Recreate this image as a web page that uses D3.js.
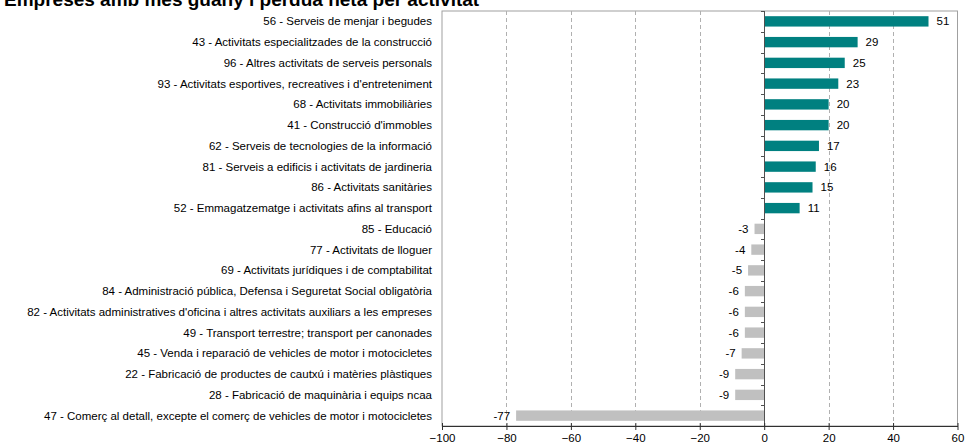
<!DOCTYPE html>
<html>
<head>
<meta charset="utf-8">
<script src="https://cdn.jsdelivr.net/npm/d3@7"></script>
<style>
  body { margin: 0; background: #fff; }
  text { font-family: "Liberation Sans", Arial, sans-serif; }
</style>
</head>
<body>
<div id="chart"></div>
<script>
// categories, top to bottom
var categories = [
    "56 - Serveis de menjar i begudes",
    "43 - Activitats especialitzades de la construcció",
    "96 - Altres activitats de serveis personals",
    "93 - Activitats esportives, recreatives i d'entreteniment",
    "68 - Activitats immobiliàries",
    "41 - Construcció d'immobles",
    "62 - Serveis de tecnologies de la informació",
    "81 - Serveis a edificis i activitats de jardineria",
    "86 - Activitats sanitàries",
    "52 - Emmagatzematge i activitats afins al transport",
    "85 - Educació",
    "77 - Activitats de lloguer",
    "69 - Activitats jurídiques i de comptabilitat",
    "84 - Administració pública, Defensa i Seguretat Social obligatòria",
    "82 - Activitats administratives d'oficina i altres activitats auxiliars a les empreses",
    "49 - Transport terrestre; transport per canonades",
    "45 - Venda i reparació de vehicles de motor i motocicletes",
    "22 - Fabricació de productes de cautxú i matèries plàstiques",
    "28 - Fabricació de maquinària i equips ncaa",
    "47 - Comerç al detall, excepte el comerç de vehicles de motor i motocicletes"
];
var values = [51, 29, 25, 23, 20, 20, 17, 16, 15, 11, -3, -4, -5, -6, -6, -6, -7, -9, -9, -77];
var xTicks = [-100, -80, -60, -40, -20, 0, 20, 40, 60];
var title = "Empreses amb més guany i pèrdua neta per activitat";

var width = 967, height = 446;
var margin = {top: 11, right: 9.5, bottom: 20, left: 442};

var svg = d3.select("#chart").append("svg")
    .attr("width", width)
    .attr("height", height);

// title, cut off at the top edge like the original
svg.append("text")
    .attr("x", 4).attr("y", 6)
    .attr("font-size", 19).attr("font-weight", "bold")
    .attr("fill", "#000")
    .text(title);

var x = d3.scaleLinear()
    .domain([-100, 60])
    .range([margin.left, width - margin.right]);

var y = d3.scaleBand()
    .domain(categories)
    .range([margin.top, height - margin.bottom])
    .paddingInner(0.5).paddingOuter(0.25);

var x0 = x(-100), x1 = x(60), yTop = margin.top, yBot = height - margin.bottom;

// frame
svg.append("rect")
    .attr("x", x0).attr("y", yTop)
    .attr("width", x1 - x0).attr("height", yBot - yTop)
    .attr("fill", "none").attr("stroke", "#a0a0a0").attr("stroke-width", 1);

// dashed gridlines
svg.append("g").selectAll("line")
    .data(xTicks.filter(function(d) { return d != -100 && d != 0 && d != 60; }))
    .enter().append("line")
        .attr("x1", function(d) { return Math.round(x(d)) + 0.5; })
        .attr("x2", function(d) { return Math.round(x(d)) + 0.5; })
        .attr("y1", yTop).attr("y2", yBot)
        .attr("stroke", "#b0b0b0")
        .attr("stroke-dasharray", "4,3");

// bars
svg.append("g").selectAll("rect")
    .data(values)
    .enter().append("rect")
        .attr("x", function(d) { return x(Math.min(0, d)); })
        .attr("y", function(d, i) { return y(categories[i]); })
        .attr("width", function(d) { return Math.abs(x(d) - x(0)); })
        .attr("height", y.bandwidth())
        .attr("fill", function(d) { return d >= 0 ? "#008080" : "#c0c0c0"; });

// value labels
svg.append("g").selectAll("text")
    .data(values)
    .enter().append("text")
        .attr("x", function(d) { return d >= 0 ? x(d) + 8 : x(d) - 6; })
        .attr("y", function(d, i) { return y(categories[i]) + y.bandwidth() / 2; })
        .attr("dy", "0.35em")
        .attr("text-anchor", function(d) { return d >= 0 ? "start" : "end"; })
        .attr("font-size", 11.5)
        .attr("fill", "#000")
        .text(function(d) { return d; });

// category labels
svg.append("g").selectAll("text")
    .data(categories)
    .enter().append("text")
        .attr("x", margin.left - 10)
        .attr("y", function(d) { return y(d) + y.bandwidth() / 2; })
        .attr("dy", "0.35em")
        .attr("text-anchor", "end")
        .attr("font-size", 11.5)
        .attr("fill", "#000")
        .text(function(d) { return d; });

// zero axis with ticks between categories
var yAxis = svg.append("g");
yAxis.append("line")
    .attr("x1", Math.round(x(0)) + 0.5).attr("x2", Math.round(x(0)) + 0.5)
    .attr("y1", yTop).attr("y2", yBot)
    .attr("stroke", "#505050");
yAxis.selectAll(".tk")
    .data(d3.range(categories.length + 1))
    .enter().append("line")
        .attr("x1", Math.round(x(0)) - 3).attr("x2", Math.round(x(0)) + 0.5)
        .attr("y1", function(i) { return Math.round(yTop + i * (yBot - yTop) / categories.length) + 0.5; })
        .attr("y2", function(i) { return Math.round(yTop + i * (yBot - yTop) / categories.length) + 0.5; })
        .attr("stroke", "#505050");

// x axis
var xAxis = svg.append("g")
    .attr("transform", "translate(0," + yBot + ")")
    .call(d3.axisBottom(x).tickValues(xTicks).tickSize(4).tickSizeOuter(0).tickPadding(4));
xAxis.select(".domain").attr("stroke", "#303030");
xAxis.selectAll(".tick line").attr("stroke", "#303030").attr("y1", -3);
xAxis.selectAll(".tick text")
    .attr("font-family", "Liberation Sans, Arial, sans-serif")
    .attr("font-size", 11.5)
    .attr("fill", "#000");
</script>
</body>
</html>
